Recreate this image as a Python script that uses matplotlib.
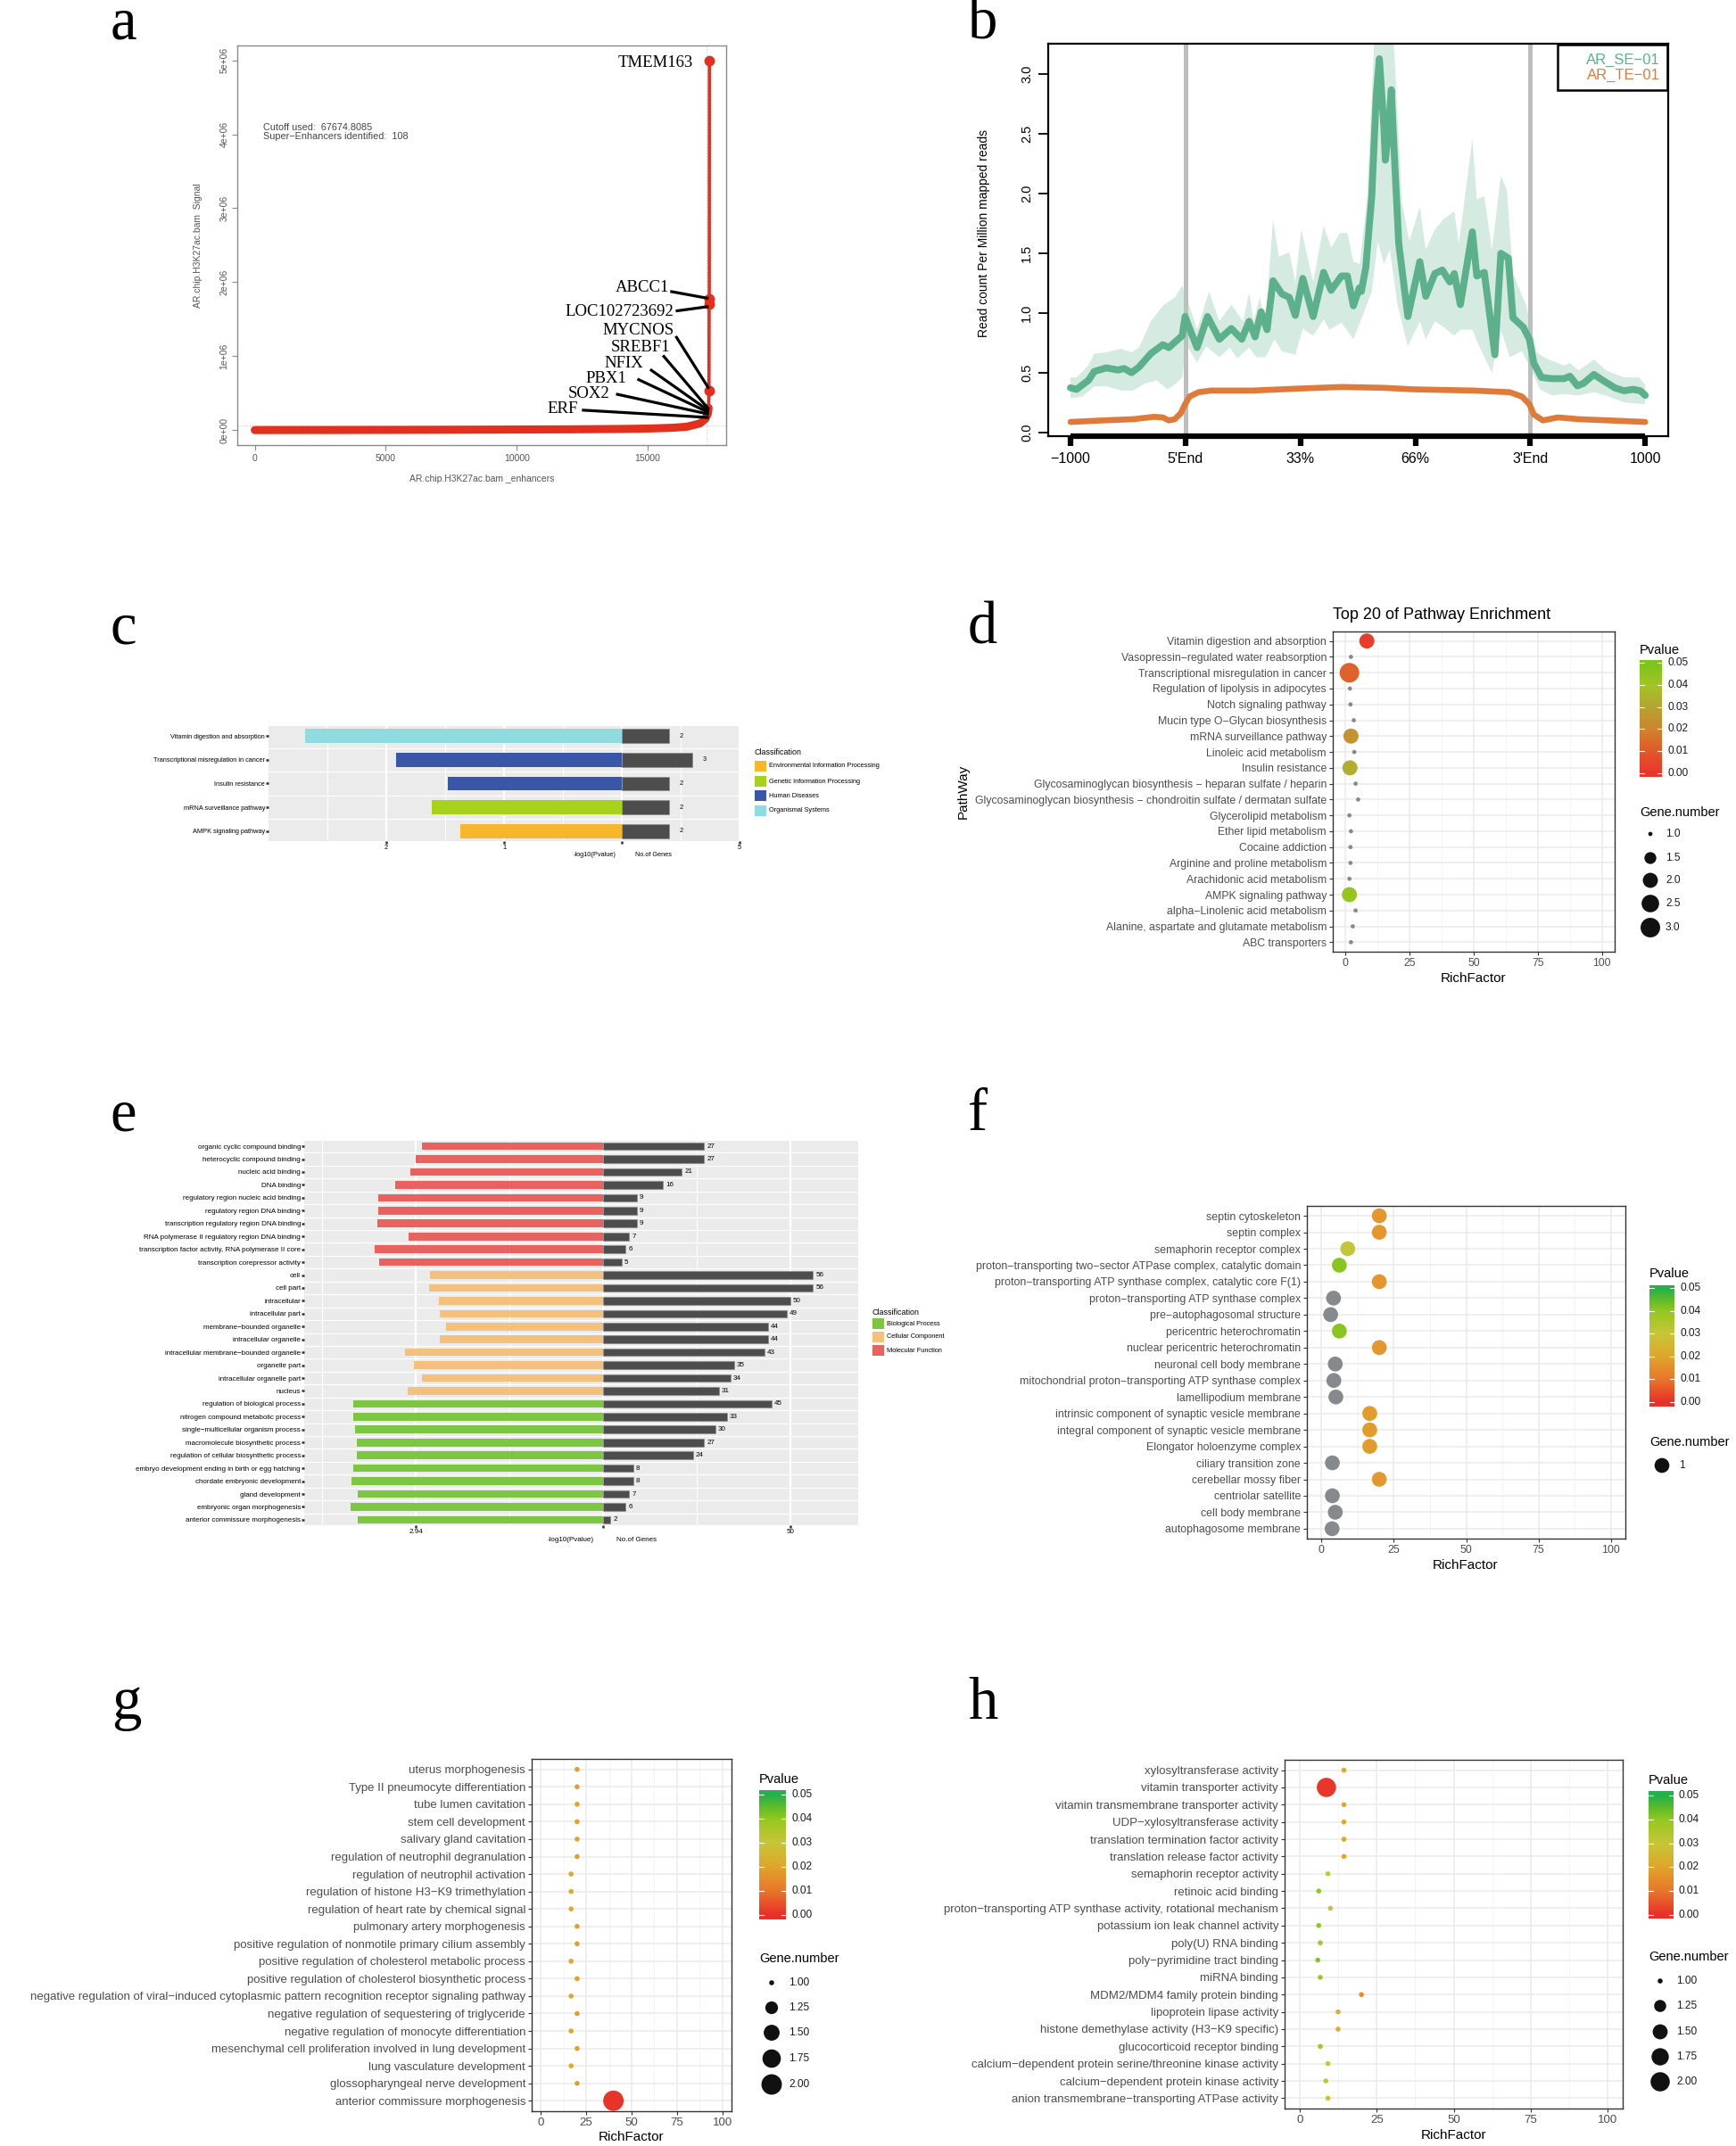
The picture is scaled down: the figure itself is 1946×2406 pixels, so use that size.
import numpy as np
import matplotlib
matplotlib.use('Agg')
import matplotlib.pyplot as plt
import matplotlib.font_manager as fm
import matplotlib.transforms as mtransforms
from matplotlib.colors import LinearSegmentedColormap

W, H = 1946, 2406

_names = {f.name for f in fm.fontManager.ttflist}
SANS = ['Liberation Sans', 'DejaVu Sans']
SERIF = ['Liberation Serif', 'DejaVu Serif']
HAS_NARROW = 'Liberation Sans Narrow' in _names
NARROW = (['Liberation Sans Narrow'] if HAS_NARROW else []) + SANS
NARROW_K = 1.0 if HAS_NARROW else 0.85   # shrink regular font when no narrow face
plt.rcParams['font.family'] = SANS

# ---------------- data: panel a (super-enhancer ranking) ----------------
a_rank = [0, 3000, 6000, 9000, 12000, 14000, 15000, 16000, 16500, 17000, 17200, 17300, 17330]
a_signal = [0, 1000, 3000, 6000, 10000, 15000, 20000, 32000, 45000, 90000, 150000, 220000, 300000]
a_se_rank = [17345, 17350, 17355, 17360]
a_se_signal = [530000, 1.70e6, 1.78e6, 5.0e6]
a_cutoff = 67674.8085
a_n_se = 108
a_genes = ['TMEM163', 'ABCC1', 'LOC102723692', 'MYCNOS', 'SREBF1', 'NFIX', 'PBX1', 'SOX2', 'ERF']
a_yticklabels = ['0e+00', '1e+06', '2e+06', '3e+06', '4e+06', '5e+06']

# ---------------- data: panel b (metagene profile) ----------------
b_ticklabels = ['\u22121000', "5'End", '33%', '66%', "3'End", '1000']
se_x = [0, 0.052, 0.155, 0.207, 0.311, 0.415, 0.466, 0.531, 0.596, 0.699, 0.803, 0.855, 0.972,
        0.997, 1.036, 1.101, 1.192, 1.295, 1.399, 1.49, 1.554, 1.606, 1.658, 1.71, 1.762, 1.839,
        1.904, 1.956, 2.021, 2.111, 2.202, 2.267, 2.358, 2.409, 2.461, 2.513, 2.53, 2.569, 2.621,
        2.66, 2.687, 2.726, 2.739, 2.765, 2.791, 2.817, 2.856, 2.935, 3.039, 3.091, 3.17, 3.235,
        3.30, 3.339, 3.392, 3.496, 3.535, 3.60, 3.692, 3.744, 3.809, 3.849, 3.94, 3.992, 4.031,
        4.097, 4.188, 4.292, 4.345, 4.41, 4.462, 4.554, 4.632, 4.736, 4.815, 4.893, 4.958, 5.0]
se_y = [0.373, 0.36, 0.435, 0.51, 0.54, 0.522, 0.535, 0.50, 0.547, 0.66, 0.734, 0.71, 0.81,
        0.97, 0.87, 0.71, 0.97, 0.78, 0.87, 0.78, 0.93, 0.80, 1.01, 0.86, 1.27, 1.16,
        1.13, 0.98, 1.29, 0.97, 1.34, 1.19, 1.31, 1.31, 1.06, 1.21, 1.18, 1.38, 1.98,
        2.82, 3.13, 2.57, 2.28, 2.51, 2.87, 2.33, 1.58, 0.97, 1.43, 1.14, 1.33, 1.36,
        1.26, 1.33, 1.07, 1.68, 1.31, 1.34, 0.65, 1.50, 1.46, 0.96, 0.88, 0.78, 0.58,
        0.46, 0.45, 0.45, 0.47, 0.39, 0.41, 0.485, 0.435, 0.373, 0.348, 0.36, 0.348, 0.31]
se_hi_x = [0, 0.052, 0.155, 0.207, 0.311, 0.44, 0.531, 0.596, 0.699, 0.803, 0.907, 0.972, 1.010,
           1.101, 1.205, 1.295, 1.399, 1.503, 1.554, 1.593, 1.645, 1.697, 1.762, 1.813, 1.904,
           1.956, 2.008, 2.111, 2.202, 2.267, 2.345, 2.409, 2.461, 2.517, 2.582, 2.648, 2.804,
           2.83, 2.883, 2.948, 3.039, 3.091, 3.17, 3.248, 3.339, 3.379, 3.496, 3.535, 3.60,
           3.666, 3.744, 3.796, 3.849, 3.966, 4.005, 4.057, 4.136, 4.292, 4.345, 4.423, 4.554,
           4.658, 4.815, 4.945, 5.0]
se_hi_y = [0.46, 0.46, 0.56, 0.66, 0.67, 0.70, 0.67, 0.71, 0.93, 1.06, 1.13, 1.23, 1.13,
           0.86, 1.18, 0.93, 1.07, 0.93, 1.17, 0.93, 1.13, 0.93, 1.78, 1.47, 1.51,
           1.26, 1.70, 1.26, 1.73, 1.55, 1.67, 1.67, 1.43, 1.41, 1.98, 3.4, 3.4,
           2.95, 1.93, 1.60, 1.89, 1.53, 1.70, 1.79, 1.85, 1.58, 2.46, 1.95, 1.98,
           1.53, 2.15, 2.03, 1.33, 1.06, 0.88, 0.67, 0.62, 0.56, 0.58, 0.52, 0.61,
           0.52, 0.46, 0.46, 0.40]
se_lo_x = [0, 0.104, 0.207, 0.311, 0.44, 0.544, 0.648, 0.751, 0.842, 0.907, 0.972, 1.010, 1.101,
           1.179, 1.295, 1.386, 1.451, 1.554, 1.619, 1.697, 1.775, 1.839, 1.956, 2.021, 2.111,
           2.202, 2.254, 2.358, 2.461, 2.543, 2.621, 2.674, 2.726, 2.778, 2.843, 2.935, 3.039,
           3.091, 3.17, 3.248, 3.339, 3.392, 3.496, 3.561, 3.666, 3.744, 3.822, 3.927, 4.005,
           4.084, 4.188, 4.292, 4.423, 4.554, 4.684, 4.815, 5.0]
se_lo_y = [0.286, 0.30, 0.386, 0.386, 0.35, 0.35, 0.41, 0.435, 0.36, 0.40, 0.46, 0.73, 0.585,
           0.72, 0.63, 0.71, 0.62, 0.71, 0.63, 0.63, 0.78, 0.68, 0.65, 0.87, 0.81,
           0.945, 0.86, 0.92, 0.78, 0.98, 1.18, 1.60, 1.41, 1.53, 1.08, 0.72, 0.93,
           0.78, 0.93, 0.88, 0.81, 0.86, 0.86, 0.71, 0.50, 0.86, 0.63, 0.68, 0.535,
           0.36, 0.31, 0.32, 0.31, 0.336, 0.30, 0.25, 0.236]
te_x = [0, 0.285, 0.544, 0.725, 0.803, 0.855, 0.907, 0.959, 0.997, 1.036, 1.114, 1.218, 1.58,
        1.969, 2.358, 2.726, 2.987, 3.509, 3.822, 3.927, 3.992, 4.031, 4.11, 4.24, 4.423, 4.684, 5.0]
te_y = [0.087, 0.10, 0.11, 0.13, 0.125, 0.10, 0.11, 0.16, 0.236, 0.30, 0.336, 0.35, 0.35,
        0.366, 0.38, 0.373, 0.36, 0.35, 0.336, 0.30, 0.236, 0.15, 0.10, 0.125, 0.11, 0.10, 0.087]

# ---------------- data: panel c (KEGG bars) ----------------
c_terms = ['Vitamin digestion and absorption', 'Transcriptional misregulation in cancer',
           'Insulin resistance', 'mRNA surveillance pathway', 'AMPK signaling pathway']
c_class = ['Organismal Systems', 'Human Diseases', 'Human Diseases',
           'Genetic Information Processing', 'Environmental Information Processing']
c_logp = [2.69, 1.92, 1.48, 1.61, 1.37]
c_genes = [2, 3, 2, 2, 2]
c_gene_unit = 5
c_classes = ['Environmental Information Processing', 'Genetic Information Processing',
             'Human Diseases', 'Organismal Systems']
c_colors = {'Environmental Information Processing': '#F6B72A',
            'Genetic Information Processing': '#A7D11A',
            'Human Diseases': '#3A56A6',
            'Organismal Systems': '#8FDBDF'}

# ---------------- data: panel d (KEGG dots) ----------------
nan = float('nan')
d_terms = ['Vitamin digestion and absorption', 'Vasopressin\u2212regulated water reabsorption',
           'Transcriptional misregulation in cancer', 'Regulation of lipolysis in adipocytes',
           'Notch signaling pathway', 'Mucin type O\u2212Glycan biosynthesis',
           'mRNA surveillance pathway', 'Linoleic acid metabolism', 'Insulin resistance',
           'Glycosaminoglycan biosynthesis \u2212 heparan sulfate / heparin',
           'Glycosaminoglycan biosynthesis \u2212 chondroitin sulfate / dermatan sulfate',
           'Glycerolipid metabolism', 'Ether lipid metabolism', 'Cocaine addiction',
           'Arginine and proline metabolism', 'Arachidonic acid metabolism',
           'AMPK signaling pathway', 'alpha\u2212Linolenic acid metabolism',
           'Alanine, aspartate and glutamate metabolism', 'ABC transporters']
d_rich = [8.3, 2.1, 1.5, 1.7, 1.9, 3.2, 2.1, 3.4, 1.7, 3.9, 4.9, 1.5, 2.1, 1.9, 1.9, 1.5, 1.5, 3.9, 2.8, 2.1]
d_genes = [2, 1, 3, 1, 1, 1, 2, 1, 2, 1, 1, 1, 1, 1, 1, 1, 2, 1, 1, 1]
d_pval = [0.002, nan, 0.012, nan, nan, nan, 0.0245, nan, 0.033, nan,
          nan, nan, nan, nan, nan, nan, 0.0427, nan, nan, nan]

# ---------------- data: panel e (GO bars) ----------------
e_terms = ['organic cyclic compound binding', 'heterocyclic compound binding', 'nucleic acid binding',
           'DNA binding', 'regulatory region nucleic acid binding', 'regulatory region DNA binding',
           'transcription regulatory region DNA binding',
           'RNA polymerase II regulatory region DNA binding',
           'transcription factor activity, RNA polymerase II core',
           'transcription corepressor activity', 'cell', 'cell part', 'intracellular',
           'intracellular part', 'membrane\u2212bounded organelle', 'intracellular organelle',
           'intracellular membrane\u2212bounded organelle', 'organelle part',
           'intracellular organelle part', 'nucleus', 'regulation of biological process',
           'nitrogen compound metabolic process', 'single\u2212multicellular organism process',
           'macromolecule biosynthetic process', 'regulation of cellular biosynthetic process',
           'embryo development ending in birth or egg hatching', 'chordate embryonic development',
           'gland development', 'embryonic organ morphogenesis', 'anterior commissure morphogenesis']
e_class = ['Molecular Function'] * 10 + ['Cellular Component'] * 10 + ['Biological Process'] * 10
e_logp = [2.84, 2.94, 3.02, 3.26, 3.53, 3.53, 3.54, 3.06, 3.59, 3.51,
          2.72, 2.73, 2.58, 2.57, 2.46, 2.56, 3.11, 2.97, 2.84, 3.07,
          3.92, 3.92, 3.89, 3.86, 3.86, 3.92, 3.95, 3.85, 3.96, 3.85]
e_genes = [27, 27, 21, 16, 9, 9, 9, 7, 6, 5, 56, 56, 50, 49, 44, 44, 43, 35, 34, 31,
           45, 33, 30, 27, 24, 8, 8, 7, 6, 2]
e_logp_tick = 2.94
e_gene_tick = 50
e_classes = ['Biological Process', 'Cellular Component', 'Molecular Function']
e_colors = {'Biological Process': '#7DC642', 'Cellular Component': '#F4C07E',
            'Molecular Function': '#E8625F'}

# ---------------- data: panel f (GO CC dots) ----------------
f_terms = ['septin cytoskeleton', 'septin complex', 'semaphorin receptor complex',
           'proton\u2212transporting two\u2212sector ATPase complex, catalytic domain',
           'proton\u2212transporting ATP synthase complex, catalytic core F(1)',
           'proton\u2212transporting ATP synthase complex', 'pre\u2212autophagosomal structure',
           'pericentric heterochromatin', 'nuclear pericentric heterochromatin',
           'neuronal cell body membrane', 'mitochondrial proton\u2212transporting ATP synthase complex',
           'lamellipodium membrane', 'intrinsic component of synaptic vesicle membrane',
           'integral component of synaptic vesicle membrane', 'Elongator holoenzyme complex',
           'ciliary transition zone', 'cerebellar mossy fiber', 'centriolar satellite',
           'cell body membrane', 'autophagosome membrane']
f_rich = [20.0, 20.0, 9.1, 6.2, 20.0, 4.2, 3.2, 6.2, 20.0, 4.8, 4.3, 5.0, 16.7, 16.7, 16.7, 3.8, 20.0, 3.8, 4.8, 3.7]
f_genes = [1] * 20
f_pval = [0.017, 0.017, 0.031, 0.041, 0.017, nan, nan, 0.041, 0.017, nan,
          nan, nan, 0.018, 0.018, 0.018, nan, 0.017, nan, nan, nan]

# ---------------- data: panel g (GO BP dots) ----------------
g_terms = ['uterus morphogenesis', 'Type II pneumocyte differentiation', 'tube lumen cavitation',
           'stem cell development', 'salivary gland cavitation',
           'regulation of neutrophil degranulation', 'regulation of neutrophil activation',
           'regulation of histone H3\u2212K9 trimethylation',
           'regulation of heart rate by chemical signal', 'pulmonary artery morphogenesis',
           'positive regulation of nonmotile primary cilium assembly',
           'positive regulation of cholesterol metabolic process',
           'positive regulation of cholesterol biosynthetic process',
           'negative regulation of viral\u2212induced cytoplasmic pattern recognition receptor signaling pathway',
           'negative regulation of sequestering of triglyceride',
           'negative regulation of monocyte differentiation',
           'mesenchymal cell proliferation involved in lung development',
           'lung vasculature development', 'glossopharyngeal nerve development',
           'anterior commissure morphogenesis']
g_rich = [20, 20, 20, 20, 20, 20, 16.7, 16.7, 16.7, 20, 20, 16.7, 20, 16.7, 20, 16.7, 20, 16.7, 20, 40]
g_genes = [1] * 19 + [2]
g_pval = [0.019, 0.019, 0.019, 0.019, 0.019, 0.019, 0.021, 0.021, 0.021, 0.019,
          0.019, 0.021, 0.019, 0.021, 0.019, 0.021, 0.019, 0.021, 0.019, 0.0005]

# ---------------- data: panel h (GO MF dots) ----------------
h_terms = ['xylosyltransferase activity', 'vitamin transporter activity',
           'vitamin transmembrane transporter activity', 'UDP\u2212xylosyltransferase activity',
           'translation termination factor activity', 'translation release factor activity',
           'semaphorin receptor activity', 'retinoic acid binding',
           'proton\u2212transporting ATP synthase activity, rotational mechanism',
           'potassium ion leak channel activity', 'poly(U) RNA binding',
           'poly\u2212pyrimidine tract binding', 'miRNA binding', 'MDM2/MDM4 family protein binding',
           'lipoprotein lipase activity', 'histone demethylase activity (H3\u2212K9 specific)',
           'glucocorticoid receptor binding',
           'calcium\u2212dependent protein serine/threonine kinase activity',
           'calcium\u2212dependent protein kinase activity',
           'anion transmembrane\u2212transporting ATPase activity']
h_rich = [14.3, 8.6, 14.3, 14.3, 14.3, 14.3, 9.1, 6.1, 9.9, 6.1, 6.6, 5.8, 6.6, 20.0, 12.4, 12.4, 6.6, 9.1, 8.4, 9.1]
h_genes = [1, 2] + [1] * 18
h_pval = [0.021, 0.001, 0.021, 0.021, 0.021, 0.021, 0.030, 0.040, 0.029, 0.040,
          0.038, 0.041, 0.038, 0.015, 0.024, 0.024, 0.038, 0.030, 0.032, 0.030]

# ---------------- colour scales ----------------
cmap_d = LinearSegmentedColormap.from_list('pd', [
    (0.0, '#E8372A'), (0.2, '#E3582A'), (0.4, '#CE852E'),
    (0.6, '#B6A433'), (0.8, '#A3C525'), (1.0, '#7CC31B')])
cmap_go = LinearSegmentedColormap.from_list('pgo', [
    (0.0, '#E8302A'), (0.2, '#E9772B'), (0.4, '#E0A52C'), (0.6, '#C8C638'),
    (0.8, '#94C81F'), (0.9, '#5EBB2B'), (1.0, '#24B14B')])
NA_GREY = '#86898E'
RED = '#E3301E'

fig = plt.figure(figsize=(W / 100, H / 100), dpi=100)
ov = fig.add_axes([0, 0, 1, 1], zorder=20)
ov.axis('off')


def px_axes(x0, y0, x1, y1):
    return fig.add_axes([x0 / W, 1 - y1 / H, (x1 - x0) / W, (y1 - y0) / H])


def letter(x, y, s):
    ov.text(x, y, s, fontsize=48, family=SERIF, va='baseline', ha='left')


# ======================= panel a =======================
ax = px_axes(266, 51, 814, 499)
n_enh = a_se_rank[-1]
ax.axhline(a_cutoff, color='#c8c8c8', ls=(0, (1, 2)), lw=0.8)
ax.axvline(n_enh - a_n_se, color='#c8c8c8', ls=(0, (1, 2)), lw=0.8)
ax.plot(a_rank, a_signal, color=RED, lw=6.5, solid_capstyle='round', solid_joinstyle='round')
ax.plot(a_rank + a_se_rank, a_signal + a_se_signal, color=RED, lw=2.6)
ax.plot(a_se_rank, a_se_signal, 'o', color=RED, ms=7.5)
ax.set_xlim(-668, 18000)
ax.set_ylim(-0.203e6, 5.2e6)
ax.set_xticks([0, 5000, 10000, 15000])
ax.set_yticks([0, 1e6, 2e6, 3e6, 4e6, 5e6])
ax.set_yticklabels(a_yticklabels, rotation=90, va='center')
for s in ax.spines.values():
    s.set_color('#8a8a8a')
    s.set_linewidth(1.0)
ax.tick_params(length=4, width=0.8, color='#8a8a8a', labelsize=7.5, labelcolor='#555555', pad=3)

# gene labels and leader lines (layout positions, data units)
lab_pos = [(16727, 4.96e6), (15830, 1.92e6), (15994, 1.595e6), (16000, 1.345e6), (15863, 1.12e6),
           (14853, 0.905e6), (14202, 0.70e6), (13550, 0.487e6), (12329, 0.28e6)]
lead = [None, ((15865, 1.875e6), (17330, 1.78e6)), ((16075, 1.61e6), (17330, 1.67e6)),
        ((16075, 1.27e6), (17340, 0.56e6)), ((15586, 1.01e6), (17340, 0.28e6)),
        ((15098, 0.82e6), (17340, 0.26e6)), ((14609, 0.69e6), (17340, 0.237e6)),
        ((13795, 0.487e6), (17340, 0.215e6)), ((12492, 0.27e6), (17340, 0.17e6))]
for name, (tx, ty), ln in zip(a_genes, lab_pos, lead):
    ax.text(tx, ty, name, family=SERIF, fontsize=13.5, ha='right', va='center')
    if ln is not None:
        ax.plot([ln[0][0], ln[1][0]], [ln[0][1], ln[1][1]], color='black', lw=2.3,
                solid_capstyle='butt')
ax.text(326, 4.095e6, 'Cutoff used:  %.4f' % a_cutoff, fontsize=7.8, color='#444444', va='center')
ax.text(326, 3.966e6, 'Super\u2212Enhancers identified:  %d' % a_n_se, fontsize=7.8,
        color='#444444', va='center')
ov.text(540, 537, 'AR.chip.H3K27ac.bam _enhancers', fontsize=7.5, color='#555555',
        ha='center', va='center')
ov.text(222, 275, 'AR.chip.H3K27ac.bam  Signal', fontsize=7.5, color='#555555',
        ha='center', va='center', rotation=90)
letter(124, 43, 'a')

# ======================= panel b =======================
ax = px_axes(1175, 49, 1870, 489)
ax.fill(np.r_[se_hi_x, se_lo_x[::-1]], np.r_[se_hi_y, se_lo_y[::-1]], color='#D5EBE2', lw=0, zorder=1)
ax.axvline(1, color='#BEBEBE', lw=3.6, zorder=2)
ax.axvline(4, color='#BEBEBE', lw=3.6, zorder=2)
ax.plot(te_x, te_y, color='#E07A3A', lw=4.8, zorder=3, solid_capstyle='round')
ax.plot(se_x, se_y, color='#5DB08C', lw=5.6, zorder=4, solid_capstyle='round', solid_joinstyle='round')
ax.set_xlim(-0.194, 5.2)
ax.set_ylim(-0.032, 3.256)
ax.set_xticks(range(len(b_ticklabels)))
ax.set_xticklabels(b_ticklabels)
ax.set_yticks([0, 0.5, 1.0, 1.5, 2.0, 2.5, 3.0])
ax.set_yticklabels(['0.0', '0.5', '1.0', '1.5', '2.0', '2.5', '3.0'], rotation=90, va='center')
for s in ax.spines.values():
    s.set_linewidth(1.6)
ax.tick_params(axis='x', length=8, width=4.5, labelsize=11.5, pad=5)
ax.tick_params(axis='y', length=8, width=1.3, labelsize=10.5, pad=4)
trans = mtransforms.blended_transform_factory(ax.transData, ax.transAxes)
ax.plot([0, len(b_ticklabels) - 1], [0, 0], transform=trans, color='black', lw=4.5,
        solid_capstyle='butt', clip_on=False, zorder=6)
ov.add_patch(plt.Rectangle((1746, 50), 123, 51, fill=False, ec='black', lw=1.8))
ov.text(1861, 67, 'AR_SE\u221201', color='#5DB08C', fontsize=12, ha='right', va='center')
ov.text(1861, 84, 'AR_TE\u221201', color='#E07A3A', fontsize=12, ha='right', va='center')
ov.text(1103, 261, 'Read count Per Million mapped reads', fontsize=10, rotation=90,
        ha='center', va='center')
letter(1085, 43, 'b')


# ======================= bar panels (c, e) =======================
def bar_panel(ax, terms, logp, genes, cols, scale, xlim, margin, fs, xt, xtl, xminor):
    n = len(terms)
    yy = np.arange(n)
    ax.set_facecolor('#EBEBEB')
    ax.barh(yy, [-v * scale for v in logp], height=0.6, color=cols, zorder=3, lw=0)
    ax.barh(yy, genes, height=0.6, color='#4D4D4D', edgecolor='#8C8C8C', lw=0.5, zorder=3)
    ax.set_xlim(*xlim)
    ax.set_ylim(n - 1 + margin, -margin)
    ax.set_xticks(xt)
    ax.set_xticklabels(xtl)
    ax.set_xticks(xminor, minor=True)
    ax.set_yticks(yy)
    ax.set_yticklabels(terms)
    ax.set_yticks(yy[:-1] + 0.5, minor=True)
    ax.grid(which='major', axis='x', color='white', lw=1.6, zorder=0)
    ax.grid(which='minor', axis='both', color='white', lw=0.8, zorder=0)
    ax.set_axisbelow(True)
    for s in ax.spines.values():
        s.set_visible(False)
    ax.tick_params(which='major', length=2, width=1.8, color='#333333', labelsize=fs, pad=0.8)
    ax.tick_params(which='minor', length=0)
    for lab in ax.get_xticklabels() + ax.get_yticklabels():
        lab.set_family(NARROW)
    return yy


def class_legend(x, y_title, ys, classes, colors, key_w, key_h, fs_t, fs):
    ov.text(x, y_title, 'Classification', family=NARROW, fontsize=fs_t, va='center')
    for yk, cl in zip(ys, classes):
        ov.add_patch(plt.Rectangle((x, yk - key_h / 2), key_w, key_h, color=colors[cl], lw=0))
        ov.text(x + key_w + 3, yk, cl, family=NARROW, fontsize=fs, va='center')


# ---- panel c
ax = px_axes(301, 814, 829, 943)
c_genes_scaled = [g / c_gene_unit for g in c_genes]
fs_c = 6.3 * NARROW_K
yy = bar_panel(ax, c_terms, c_logp, c_genes_scaled, [c_colors[k] for k in c_class], 1.0,
               (-3.0, 1.0), 0.43, fs_c, [-2, -1, 0, 1], ['2', '1', '', '5'],
               [-2.5, -1.5, -0.5, 0.5])
for y, g, gs in zip(yy, c_genes, c_genes_scaled):
    ax.text(gs + 0.09, y, str(g), family=NARROW, fontsize=fs_c, va='center', ha='left')
ov.text(667, 959, '-log10(Pvalue)', family=NARROW, fontsize=fs_c, ha='center', va='center')
ov.text(733, 959, 'No.of Genes', family=NARROW, fontsize=fs_c, ha='center', va='center')
class_legend(846, 844, [859, 876, 892, 909], c_classes, c_colors, 13, 12.5,
             7.5 * NARROW_K, 6.3 * NARROW_K)
letter(123, 722, 'c')

# ---- panel e
ax = px_axes(341, 1279, 962, 1710)
e_scale = e_gene_tick / e_logp_tick
fs_e = 6.8 * NARROW_K
yy = bar_panel(ax, e_terms, e_logp, e_genes, [e_colors[k] for k in e_class], e_scale,
               (-79.8, 68.1), 0.42, fs_e, [-e_gene_tick, 0, e_gene_tick],
               ['%.2f' % e_logp_tick, '', str(e_gene_tick)], [-75, -25, 25])
for y, g in zip(yy, e_genes):
    ax.text(g + 0.7, y, str(g), family=NARROW, fontsize=fs_e, va='center', ha='left')
ov.text(640, 1726, '-log10(Pvalue)', family=NARROW, fontsize=fs_e, ha='center', va='center')
ov.text(714, 1726, 'No.of Genes', family=NARROW, fontsize=fs_e, ha='center', va='center')
class_legend(978, 1471, [1484, 1499, 1514], e_classes, e_colors, 13, 12.4,
             7.5 * NARROW_K, 6.3 * NARROW_K)
letter(123, 1267, 'e')


# ======================= dot panels (d, f, g, h) =======================
def diam(g, dmin, dmax, gmin, gmax):
    if gmax == gmin:
        return dmax
    return dmin + (dmax - dmin) * np.sqrt((g - gmin) / (gmax - gmin))


def dot_panel(ax, terms, rich, pval, genes, cmap, dmin, dmax, fs):
    n = len(terms)
    yy = np.arange(n)
    gmin, gmax = min(genes), max(genes)
    cols = [NA_GREY if np.isnan(p) else cmap(p / 0.05) for p in pval]
    sizes = [diam(g, dmin, dmax, gmin, gmax) ** 2 for g in genes]
    ax.scatter(rich, yy, s=sizes, c=cols, edgecolors='none', zorder=3)
    ax.set_xlim(-5, 105)
    ax.set_ylim(n - 1 + 0.6, -0.6)
    ax.set_xticks([0, 25, 50, 75, 100])
    ax.set_xticks([12.5, 37.5, 62.5, 87.5], minor=True)
    ax.set_yticks(yy)
    ax.set_yticklabels(terms)
    ax.grid(which='major', color='#EBEBEB', lw=1.1, zorder=0)
    ax.grid(which='minor', axis='x', color='#F4F4F4', lw=0.6, zorder=0)
    ax.set_axisbelow(True)
    for s in ax.spines.values():
        s.set_color('#333333')
        s.set_linewidth(1.0)
    ax.tick_params(which='major', length=3, width=0.8, color='#333333', labelsize=fs,
                   labelcolor='#4D4D4D', pad=2)
    ax.tick_params(which='minor', length=0)


def pvalue_legend(x0, x1, y_title, y_top, y_bot, y05, y00, cmap):
    ov.text(x0, y_title, 'Pvalue', fontsize=10.5, va='center', ha='left')
    grad = np.linspace(-(y_bot - y00) / (y00 - y05), 1 + (y05 - y_top) / (y00 - y05), 256)[:, None]
    ov.imshow(np.clip(grad, 0, 1), cmap=cmap, vmin=0, vmax=1, aspect='auto', origin='lower',
              extent=[x0, x1, y_bot, y_top], interpolation='bilinear')
    for k in range(6):
        yk = y00 - (y00 - y05) * k / 5
        ov.plot([x0, x0 + 5], [yk, yk], color='white', lw=0.8)
        ov.plot([x1 - 5, x1], [yk, yk], color='white', lw=0.8)
        ov.text(x1 + 6, yk, '%.2f' % (0.01 * k), fontsize=8.6, va='center', ha='left',
                color='#1A1A1A')


def size_legend(x_key, x_lab, y_title, ys, vals, labels, dmin, dmax, x_title):
    ov.text(x_title, y_title, 'Gene.number', fontsize=10.5, va='center', ha='left')
    for yk, v, lab in zip(ys, vals, labels):
        ov.scatter([x_key], [yk], s=diam(v, dmin, dmax, min(vals), max(vals)) ** 2,
                   color='#111111', edgecolors='none')
        ov.text(x_lab, yk, lab, fontsize=8.6, va='center', ha='left', color='#1A1A1A')


# ---- panel d
ax = px_axes(1494, 708, 1810, 1067)
dot_panel(ax, d_terms, d_rich, d_pval, d_genes, cmap_d, 3.4, 15.8, 8.8)
ov.text(1494, 689, 'Top 20 of Pathway Enrichment', fontsize=13, va='center', ha='left')
ov.text(1652, 1097, 'RichFactor', fontsize=11, ha='center', va='center')
ov.text(1080, 887, 'PathWay', fontsize=11, ha='center', va='center', rotation=90)
pvalue_legend(1838, 1863, 729, 740, 871, 743, 867, cmap_d)
size_legend(1850, 1867, 911, [935, 962, 987, 1013, 1040], [1.0, 1.5, 2.0, 2.5, 3.0],
            ['1.0', '1.5', '2.0', '2.5', '3.0'], 3.4, 15.8, 1838)
letter(1085, 722, 'd')

# ---- panel f
ax = px_axes(1465, 1352, 1822, 1725)
dot_panel(ax, f_terms, f_rich, f_pval, f_genes, cmap_go, 12, 12, 8.9)
ov.text(1643, 1755, 'RichFactor', fontsize=11, ha='center', va='center')
pvalue_legend(1849, 1877, 1428, 1441, 1577, 1444, 1572, cmap_go)
size_legend(1863, 1882, 1617, [1643], [1], ['1'], 12, 12, 1849)
letter(1085, 1267, 'f')

# ---- panel g
ax = px_axes(596, 1972, 820, 2367)
dot_panel(ax, g_terms, g_rich, g_pval, g_genes, cmap_go, 4.0, 16.5, 9.5)
ov.text(708, 2396, 'RichFactor', fontsize=11, ha='center', va='center')
pvalue_legend(851, 881, 1995, 2007, 2152, 2012, 2147, cmap_go)
size_legend(865, 884, 2196, [2223, 2251, 2279, 2308, 2337], [1.0, 1.25, 1.5, 1.75, 2.0],
            ['1.00', '1.25', '1.50', '1.75', '2.00'], 4.0, 16.5, 851)
letter(125, 1927, 'g')

# ---- panel h
ax = px_axes(1440, 1973, 1819, 2364)
dot_panel(ax, h_terms, h_rich, h_pval, h_genes, cmap_go, 4.0, 15.5, 9.5)
ov.text(1630, 2394, 'RichFactor', fontsize=11, ha='center', va='center')
pvalue_legend(1848, 1876, 1996, 2008, 2151, 2013, 2147, cmap_go)
size_legend(1861, 1879, 2194, [2221, 2249, 2278, 2306, 2334], [1.0, 1.25, 1.5, 1.75, 2.0],
            ['1.00', '1.25', '1.50', '1.75', '2.00'], 4.0, 15.5, 1848)
letter(1085, 1927, 'h')

ov.set_xlim(0, W)
ov.set_ylim(H, 0)
fig.savefig('out.png', dpi=100)
